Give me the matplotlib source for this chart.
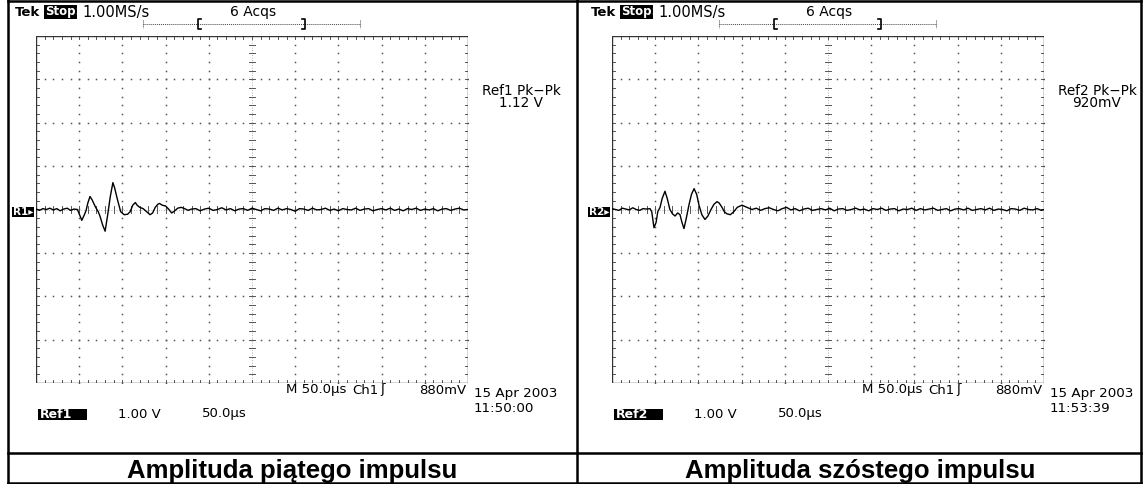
import numpy as np
import matplotlib.pyplot as plt
from matplotlib.lines import Line2D
from matplotlib.patches import Rectangle

W, H = 1144, 484

# time in µs, amplitude in V (1.00 V/div, 50.0 µs/div)
pre1_v = [0.01, -0.02, 0.02, 0.0, 0.03, -0.01, 0.02, -0.03, 0.01, 0.03, -0.02, 0.01]
pulse1_t = [48, 50, 53, 56, 58, 60, 62.5, 65, 69, 72,
            74, 77, 80, 83, 86, 89, 91, 94, 98, 102,
            106, 109, 112, 115, 117, 120, 124, 128, 132, 135,
            138, 141, 143, 146, 150, 153, 157, 160, 164, 168,
            172, 176, 180]
pulse1_v = [0.0, -0.1, -0.25, -0.12, -0.02, 0.15, 0.30, 0.22, 0.05, -0.05,
            -0.15, -0.35, -0.50, -0.12, 0.30, 0.62, 0.50, 0.25, -0.05, -0.12,
            -0.11, -0.05, 0.10, 0.16, 0.10, 0.05, 0.02, -0.05, -0.12, -0.08,
            0.05, 0.12, 0.14, 0.10, 0.08, 0.02, -0.08, -0.04, 0.03, 0.05,
            0.02, -0.02, 0.01]
tail1_v = [0.02, -0.03, 0.01, 0.03, -0.02, 0.0, 0.04, -0.01, 0.02, -0.03,
           0.01, 0.02, -0.02, 0.03, 0.0, -0.03, 0.02, 0.01, -0.02, 0.03,
           -0.01, 0.02, 0.0, -0.04, 0.02, 0.01, -0.02, 0.03, -0.01, 0.0,
           0.03, -0.02, 0.01, -0.03, 0.02, 0.0, -0.01, 0.03, -0.02, 0.01,
           0.02, -0.03, 0.0, 0.02, -0.01, 0.03, -0.02, 0.01, -0.03, 0.02,
           0.0, 0.03, -0.02, 0.01, -0.01, 0.02, -0.03, 0.01, 0.02, -0.02,
           0.01, 0.03, -0.01, 0.0]

pre2_v = [0.02, 0.0, -0.02, 0.03, 0.01, -0.01, 0.04, 0.0, -0.02, 0.02, 0.01]
pulse2_t = [44, 46, 48.6, 51, 53, 55.6, 58, 61.3, 64, 67,
            70, 73, 76, 78.7, 81, 83.3, 86, 89, 92, 95,
            98, 100.7, 104, 107.6, 111, 114.6, 118, 121.5, 124, 127.3,
            130, 133, 137, 141, 145, 150.5, 155, 162]
pulse2_v = [0.02, -0.05, -0.42, -0.30, -0.05, 0.05, 0.25, 0.42, 0.25, 0.0,
            -0.10, -0.15, -0.08, -0.12, -0.30, -0.44, -0.20, 0.10, 0.35, 0.48,
            0.35, 0.10, -0.12, -0.23, -0.15, 0.0, 0.12, 0.18, 0.15, 0.05,
            -0.05, -0.10, -0.12, -0.05, 0.05, 0.10, 0.06, 0.0]
tail2_v = [0.03, -0.02, 0.02, 0.04, 0.0, -0.03, 0.02, 0.05, -0.01, 0.02,
           -0.03, 0.01, 0.03, -0.02, 0.0, 0.02, -0.01, 0.03, -0.03, 0.01,
           0.02, -0.02, 0.0, 0.03, -0.01, 0.01, -0.03, 0.02, 0.0, 0.03,
           -0.02, 0.01, 0.02, -0.03, 0.01, 0.0, 0.03, -0.02, 0.02, -0.01,
           0.01, 0.03, -0.02, 0.0, 0.02, -0.03, 0.01, 0.02, -0.01, 0.03,
           -0.02, 0.0, 0.02, -0.01, 0.03, -0.02, 0.01, 0.0, -0.03, 0.02,
           0.01, -0.02, 0.03, 0.0, -0.01, 0.02, -0.02, 0.01]

captions = ['Amplituda piątego impulsu', 'Amplituda szóstego impulsu']
ref_names = ['Ref1', 'Ref2']
markers = ['R1', 'R2']
pkpk = ['1.12 V', '920mV']
clocks = ['11:50:00', '11:53:39']


def trace(pre, pt, pv, tail, pre_dt=4.0, tail_dt=5.0):
    # scope record: evenly sampled baseline before and after the burst
    t_pre = np.arange(len(pre)) * pre_dt
    t_tail = pt[-1] + tail_dt * (np.arange(len(tail)) + 1)
    return np.concatenate([t_pre, pt, t_tail]), np.concatenate([pre, pv, tail])


fig = plt.figure(figsize=(W / 100, H / 100), dpi=100)


def put(x, y, s, size=9.5, ha='left', family='DejaVu Sans', **kw):
    fig.text(x / W, 1 - y / H, s, fontsize=size, ha=ha, va='center',
             family=family, **kw)


def fline(xs, ys, **kw):
    fig.add_artist(Line2D([x / W for x in xs], [1 - y / H for y in ys],
                          transform=fig.transFigure, **kw))


def box(x0, y0, x1, y1):
    fig.add_artist(Rectangle((x0 / W, 1 - y1 / H), (x1 - x0) / W, (y1 - y0) / H,
                             transform=fig.transFigure, color='black', lw=0))


def graticule(ax):
    gray = '#555555'
    xs_minor = np.arange(0, 501, 10)
    ys_minor = np.arange(-4, 4.001, 0.2)
    dot = dict(ls='none', marker='s', ms=1.1, mew=0, color=gray)
    for xm in range(50, 500, 50):
        if xm != 250:
            ax.plot(np.full(len(ys_minor), xm), ys_minor, **dot)
    for ym in range(-3, 4):
        if ym != 0:
            ax.plot(xs_minor, np.full(len(xs_minor), float(ym)), **dot)
    # centre cross
    ax.plot([0, 500], [0, 0], color='#999999', lw=0.6, ls=(0, (1, 2)))
    ax.plot([250, 250], [-4, 4], color='#999999', lw=0.6, ls=(0, (1, 2)))
    segs_x, segs_y = [], []
    for xm in xs_minor:
        segs_x += [xm, xm, np.nan]
        segs_y += [-0.07, 0.07, np.nan]
        segs_x += [xm, xm, np.nan, xm, xm, np.nan]
        segs_y += [4, 3.94, np.nan, -4, -3.94, np.nan]
    for ym in ys_minor:
        segs_x += [246, 254, np.nan, 0, 3, np.nan, 500, 497, np.nan]
        segs_y += [ym, ym, np.nan, ym, ym, np.nan, ym, ym, np.nan]
    ax.plot(segs_x, segs_y, color=gray, lw=0.7)
    ax.plot([0, 500, 500, 0, 0], [-4, -4, 4, 4, -4], color='#333333', lw=1.0)


traces = [trace(pre1_v, pulse1_t, pulse1_v, tail1_v),
          trace(pre2_v, pulse2_t, pulse2_v, tail2_v)]

for i, (t, v) in enumerate(traces):
    o = 576 * i
    ax = fig.add_axes([(36 + o) / W, 1 - 383 / H, 432 / W, 347 / H])
    ax.set_xlim(0, 500)
    ax.set_ylim(-4, 4)
    ax.axis('off')
    graticule(ax)
    ax.plot(t, v, color='black', lw=1.0)

    # header
    put(15 + o, 12, 'Tek', weight='bold')
    box(44 + o, 5, 77 + o, 19)
    put(45 + o, 12, 'Stop:', color='white', size=8.5, weight='bold')
    put(82 + o, 12, '1.00MS/s', size=10.5)
    put(230 + o, 12, '6 Acqs', size=10)
    fline([143 + o, 360 + o], [24, 24], color='#444444', lw=0.7, ls=(0, (1, 1)))
    for xe in (143, 360):
        fline([xe + o, xe + o], [20, 28], color='#444444', lw=0.7, ls=(0, (1, 1)))
    fline([201 + o, 198 + o, 198 + o, 201 + o], [19, 19, 29, 29], color='black', lw=1.2)
    fline([302 + o, 305 + o, 305 + o, 302 + o], [19, 19, 29, 29], color='black', lw=1.2)

    # measurement readout
    put(521 + o, 91, ref_names[i] + ' Pk\u2212Pk', ha='center', size=9.8)
    put(521 + o, 103, pkpk[i], ha='center', size=9.8)

    # channel marker
    box(12 + o, 207, 34 + o, 217)
    put(13 + o, 212, markers[i] + '\u25b8', color='white', weight='bold', size=7.5)

    # bottom status lines
    put(286 + o, 390, 'M 50.0\u00b5s')
    put(352 + o, 390, 'Ch1')
    put(380 + o, 390, '\u0283')
    put(466 + o, 390, '880mV', ha='right')
    put(474 + o, 394, '15 Apr 2003', size=9.7)
    put(474 + o, 408, clocks[i], size=9.7)
    box(38 + o, 409, 87 + o, 420)
    put(40 + o, 414, ref_names[i], color='white', weight='bold', size=9)
    put(118 + o, 414, '1.00 V')
    put(202 + o, 414, '50.0\u00b5s')

    put(292 + 568 * i, 471, captions[i], size=18.5, ha='center',
        weight='bold', family='Liberation Sans')

# table frame
kw = dict(color='black', lw=1.8)
fline([8, 8], [0, 484], **kw)
fline([577, 577], [0, 484], **kw)
fline([1141, 1141], [0, 484], **kw)
fline([8, 1141], [1, 1], **kw)
fline([8, 1141], [453, 453], **kw)
fline([8, 1141], [483, 483], **kw)

fig.savefig('out.png', dpi=100)
